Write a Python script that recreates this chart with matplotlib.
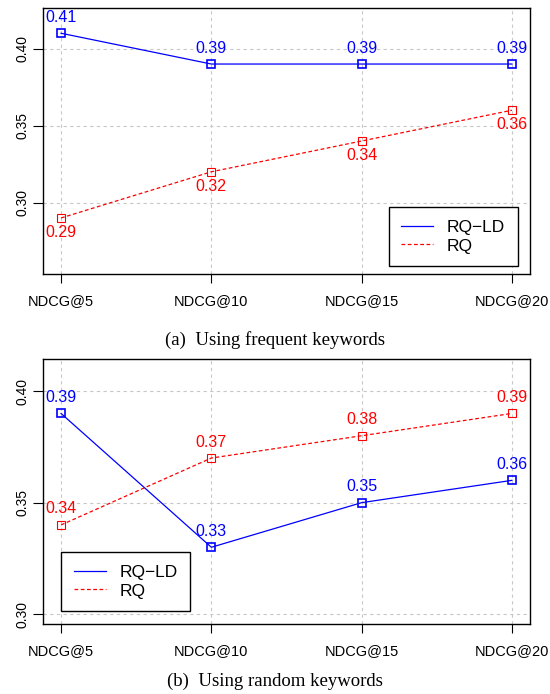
import matplotlib.pyplot as plt
from matplotlib.lines import Line2D
import numpy as np

plt.rcParams['font.family'] = ['Liberation Sans', 'DejaVu Sans']

categories = ['NDCG@5', 'NDCG@10', 'NDCG@15', 'NDCG@20']
freq_rqld = [0.41, 0.39, 0.39, 0.39]
freq_rq = [0.29, 0.32, 0.34, 0.36]
rand_rqld = [0.39, 0.33, 0.35, 0.36]
rand_rq = [0.34, 0.37, 0.38, 0.39]
yticks = [0.30, 0.35, 0.40]
captions = ['(a)  Using frequent keywords', '(b)  Using random keywords']

x = np.arange(1, len(categories) + 1)


def r_lim(lo, hi):
    # R style 4% axis extension
    d = (hi - lo) * 0.04
    return lo - d, hi + d


def panel(ax, rqld, rq, ylim, rq_below, legend_loc, legend_anchor):
    for v in yticks:
        ax.axhline(v, color='#c8c8c8', lw=0.8, ls=(0, (3, 3)), zorder=0)
    for xi in x:
        ax.axvline(xi, color='#c8c8c8', lw=0.8, ls=(0, (3, 3)), zorder=0)

    ax.plot(x, rqld, color='#0000ff', lw=0.9, marker='s', ms=5.5,
            mfc='none', mec='#0000ff', mew=1.2)
    ax.plot(x, rq, color='#ff0000', lw=0.9, ls=(0, (3, 2)), marker='s',
            ms=5.5, mfc='none', mec='#ff0000', mew=0.8)

    for xi, v in zip(x, rqld):
        ax.annotate('%.2f' % v, (xi, v), xytext=(0, 11.5), textcoords='offset points',
                    ha='center', va='center', color='#0000ff', fontsize=11.5)
    off = -10.5 if rq_below else 11.5
    for xi, v in zip(x, rq):
        ax.annotate('%.2f' % v, (xi, v), xytext=(0, off), textcoords='offset points',
                    ha='center', va='center', color='#ff0000', fontsize=11.5)

    ax.set_xlim(*r_lim(1, 4))
    ax.set_ylim(*r_lim(*ylim))
    ax.set_xticks(x)
    ax.set_xticklabels(categories, fontsize=10.5)
    ax.set_yticks(yticks)
    ax.set_yticklabels(['%.2f' % v for v in yticks], rotation=90, va='center', fontsize=10)
    ax.tick_params(axis='x', length=6.5, width=0.8, pad=8)
    ax.tick_params(axis='y', length=7, width=0.8, pad=3)
    for s in ax.spines.values():
        s.set_linewidth(1.0)

    handles = [Line2D([], [], color='#0000ff', lw=0.9),
               Line2D([], [], color='#ff0000', lw=0.9, ls=(0, (3, 2)))]
    leg = ax.legend(handles, ['RQ\u2212LD', 'RQ'], loc=legend_loc,
                    bbox_to_anchor=legend_anchor, borderaxespad=0, fancybox=False,
                    edgecolor='black', framealpha=1, fontsize=12.5, handlelength=1.85,
                    handletextpad=0.8, labelspacing=0.2, borderpad=0.72)
    leg.get_frame().set_linewidth(1.0)


fig = plt.figure(figsize=(5.5, 6.94), dpi=100)

ax1 = fig.add_axes([43 / 550, 1 - 274 / 694, 487 / 550, 266 / 694])
panel(ax1, freq_rqld, freq_rq, (0.26, 0.42), True, 'lower right', (0.975, 0.03))

ax2 = fig.add_axes([43 / 550, 1 - 624 / 694, 487 / 550, 265 / 694])
panel(ax2, rand_rqld, rand_rq, (0.30, 0.41), False, 'lower left', (0.037, 0.049))

fig.text(0.5, 1 - 340 / 694, captions[0], ha='center', va='center',
         family='Liberation Serif', fontsize=13.5)
fig.text(0.5, 1 - 681 / 694, captions[1], ha='center', va='center',
         family='Liberation Serif', fontsize=13.5)

fig.savefig('out.png', dpi=100)
